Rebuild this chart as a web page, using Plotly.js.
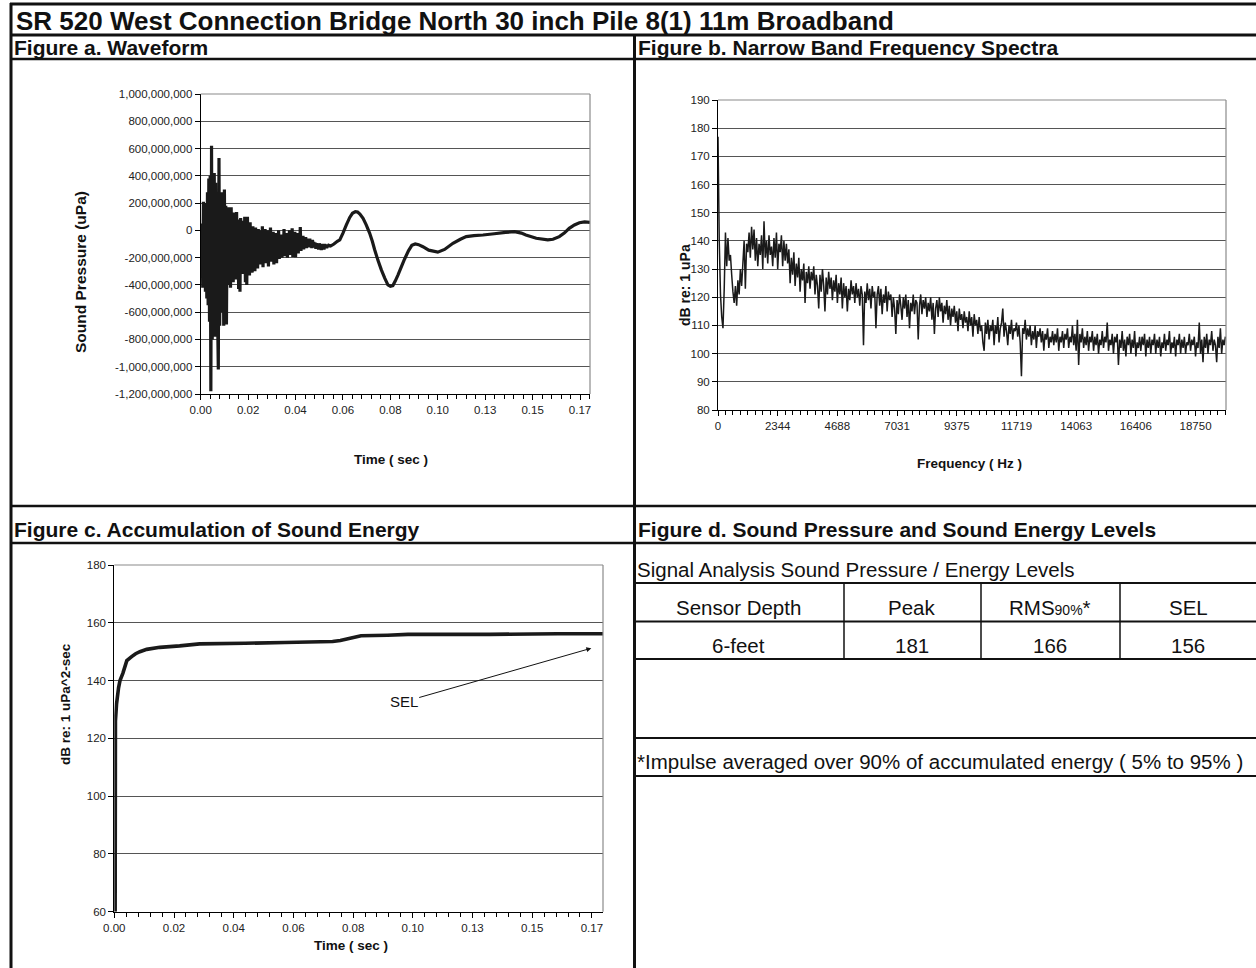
<!DOCTYPE html>
<html><head><meta charset="utf-8">
<script src="https://cdn.plot.ly/plotly-3.0.1.min.js"></script>
<style>html,body{margin:0;padding:0;background:#fff}#chart{width:1256px;height:968px}</style>
</head><body><div id="chart"></div>
<script>
// ---------------- data ----------------
const chartTitle = "SR 520 West Connection Bridge North 30 inch Pile 8(1) 11m Broadband";
const panelTitles = ["Figure a. Waveform", "Figure b. Narrow Band Frequency Spectra",
  "Figure c. Accumulation of Sound Energy", "Figure d. Sound Pressure and Sound Energy Levels"];

// time axis labels (Excel category labels)
const timeTickVals = [0, 0.021, 0.042, 0.063, 0.084, 0.105, 0.126, 0.147, 0.168];
const timeTickText = ["0.00","0.02","0.04","0.06","0.08","0.10","0.13","0.15","0.17"];

// waveform: early burst, sampled every burstStep seconds (values in millions of uPa)
const burstStep = 0.0003;
const burstPressureM = [
  0,-350,50,-420,210,-380,200,-450,150,-500,
  280,-550,380,-670,400,-1180,620,-800,300,-600,
  420,-780,350,-550,200,-650,-1020,530,-700,250,
  -500,280,-600,150,-700,300,-450,180,-690,100,
  -400,170,-350,120,-420,170,-300,90,-380,130,
  -280,60,-360,135,-300,40,-430,80,-450,90,
  -250,30,-320,70,-270,100,-380,20,-400,100,
  -260,40,-330,60,-250,0,-310,30,-240,-10,
  -300,20,-230,-20,-280,10,-220,0,-250,-30,
  -210,30,-270,-20,-200,10,-240,-40,-210,0,
  -265,-30,-190,20,-230,-50,-200,-10,-250,-40,
  -180,-20,-240,-60,-170,0,-210,-50,-190,-30,
  -200,-60,-160,10,-190,-40,-170,-20,-200,-60,
  -150,0,-180,-50,-170,15,-195,-40,-140,-10,
  -196,-50,-150,-20,-170,-60,-130,25,-150,-60,
  -120,-40,-140,-70,-120,-50,-130,-60,-110,-70,
  -125,-60,-110,-80,-130,-70,-115,-85,-125,-90,
  -135,-95,-120,-100,-140,-95,-125,-110,-145,-100,
  -130,-110,-140,-100,-125,-110,-130,-105,-120,-110
];
// waveform: later slow part
const tailTime = [0.0575,0.0590,0.0605,0.0616,0.0630,0.0645,0.0660,0.0672,0.0685,0.0695,
  0.0705,0.0719,0.0733,0.0748,0.0760,0.0770,0.0785,0.0800,0.0815,0.0829,
  0.0840,0.0851,0.0862,0.0873,0.0888,0.0903,0.0920,0.0935,0.0950,0.0965,
  0.0984,0.1010,0.1050,0.1080,0.1117,0.1150,0.1176,0.1210,0.1250,0.1300,
  0.1350,0.1390,0.1420,0.1440,0.1486,0.1537,0.1560,0.1588,0.1610,0.1632,
  0.1655,0.1677,0.1700,0.1724];
const tailPressureM = [-115,-100,-80,-70,-20,40,95,125,137,135,
  120,88,40,-20,-80,-140,-220,-290,-350,-400,
  -410,-405,-370,-330,-270,-210,-150,-110,-100,-105,
  -120,-145,-160,-140,-95,-65,-46,-38,-34,-25,
  -15,-10,-20,-34,-58,-70,-65,-46,-20,15,
  40,56,62,58];
const pressureTickVals = [-1.2e9,-1e9,-8e8,-6e8,-4e8,-2e8,0,2e8,4e8,6e8,8e8,1e9];
const pressureTickText = ["-1,200,000,000","-1,000,000,000","-800,000,000","-600,000,000",
  "-400,000,000","-200,000,000","0","200,000,000","400,000,000","600,000,000",
  "800,000,000","1,000,000,000"];

// narrow band spectrum, one value per bin of specStep Hz (dB re 1 uPa)
const specStep = 48.828125;
const specLevel = [
  177,140,121,113,109,123,143,131,141,133, 135,128,122,118,124,117,126,121,130,124,
  132,140,123,139,136,143,134,145,137,144, 133,141,131,139,135,142,130,147,134,140,
  132,142,135,138,131,141,134,143,130,139, 136,142,131,140,133,139,132,137,125,134,
  128,136,124,132,127,134,122,130,126,132, 118,129,125,131,123,129,126,131,121,128,
  124,116,128,122,130,124,115,127,121,129, 123,127,119,126,122,128,118,125,121,127,
  116,125,120,124,115,123,119,126,121,124, 118,125,120,123,117,124,121,103,122,118,
  125,119,123,116,124,120,122,109,121,124, 117,123,114,121,118,124,115,122,119,121,
  113,120,116,107,119,114,121,117,112,120, 116,121,113,119,109,118,115,121,114,119,
  118,105,117,121,114,119,116,120,113,118, 115,120,112,118,107,116,119,113,120,115,
  118,111,117,114,119,112,117,110,116,113, 117,111,115,108,116,112,114,109,115,111,
  113,108,115,110,113,106,114,110,112,107, 113,108,110,104,101,111,107,112,105,110,
  108,112,103,110,107,113,104,109,111,116, 106,111,108,103,110,107,112,105,109,108,
  111,106,110,104,92,109,107,112,105,109, 106,110,103,108,105,110,102,108,106,109,
  104,108,101,107,105,109,102,106,104,108, 103,107,104,109,101,106,104,108,102,107,
  105,109,102,106,104,110,103,107,101,112, 96,107,104,109,102,106,103,108,101,106,
  104,108,101,106,103,107,100,105,103,108, 102,106,104,111,101,105,103,107,100,106,
  104,107,96,105,102,108,101,105,99,106, 103,107,100,105,102,108,99,104,102,106,
  101,106,103,107,99,105,102,106,100,105, 103,107,100,105,102,106,99,104,102,107,
  101,105,103,108,100,104,102,106,99,105, 103,107,100,105,102,106,100,104,103,107,
  101,105,103,106,99,104,102,111,100,105, 97,106,102,107,100,105,103,108,101,105,
  103,97,106,102,109,100,105,103,106
];
const freqTickVals = [0,2343.75,4687.5,7031.25,9375,11718.75,14062.5,16406.25,18750];
const freqTickText = ["0","2344","4688","7031","9375","11719","14063","16406","18750"];

// accumulated sound energy (dB re 1 uPa^2-sec)
const accTime = [0.0003,0.0004,0.0008,0.0015,0.002,0.003,0.0044,0.0061,0.0075,0.009,
  0.0114,0.016,0.023,0.030,0.046,0.060,0.0768,0.0795,0.0818,0.0845,
  0.0868,0.0961,0.1033,0.132,0.156,0.1719];
const accLevel = [60,126,132,137.5,140,142.5,146.9,148.3,149.3,150,
  150.8,151.5,152,152.7,152.9,153.2,153.5,153.9,154.4,155.0,
  155.5,155.7,156.0,156.0,156.2,156.2];
const selLabel = "SEL";
const selPoint = [0.1678, 151.2];
const selLabelPos = [0.1018, 132.6];

// table
const tableCaption = "Signal Analysis Sound Pressure / Energy Levels";
const tableHeader = ["Sensor Depth","Peak","RMS<span style=\"font-size:14px\">90%</span>*","SEL"];
const tableRow = ["6-feet","181","166","156"];
const tableNote = "*Impulse averaged over 90% of accumulated energy ( 5% to 95% )";

// ---------------- build ----------------
const W = 1256, H = 968;
const X = p => p / W, Y = p => 1 - p / H;
const FONT = "Liberation Sans, Arial, Helvetica, sans-serif";
const INK = "#111";

const waveT = burstPressureM.map((_, i) => i * burstStep).concat(tailTime);
const waveP = burstPressureM.concat(tailPressureM).map(v => v * 1e6);
const specF = specLevel.map((_, i) => i * specStep);

const traces = [
  {x: waveT, y: waveP, xaxis: "x", yaxis: "y", type: "scatter", mode: "lines",
   line: {color: "#1a1a1a", width: 3.2, simplify: false}, hoverinfo: "skip"},
  {x: specF, y: specLevel, xaxis: "x2", yaxis: "y2", type: "scatter", mode: "lines",
   line: {color: "#1a1a1a", width: 1.5, simplify: false}, hoverinfo: "skip"},
  {x: accTime, y: accLevel, xaxis: "x3", yaxis: "y3", type: "scatter", mode: "lines",
   line: {color: "#1a1a1a", width: 3.6, simplify: false}, hoverinfo: "skip"}
];

const tickFont = {family: FONT, size: 11.5, color: "#222"};
const base = {showline: true, linecolor: "#000", linewidth: 1, ticks: "outside", ticklen: 5,
  tickcolor: "#000", tickwidth: 1, zeroline: false, tickfont: tickFont, fixedrange: true};
const gridY = {showgrid: true, gridcolor: "#555", gridwidth: 1};
const minorT = (d) => ({tickmode: "linear", tick0: 0, dtick: d, ticks: "outside", ticklen: 4,
  tickcolor: "#000", tickwidth: 1, showgrid: false});

const layout = {
  width: W, height: H, margin: {l: 0, r: 0, t: 0, b: 0},
  paper_bgcolor: "#fff", plot_bgcolor: "#fff", showlegend: false,
  font: {family: FONT, color: INK},
  xaxis: Object.assign({}, base, {domain: [X(200.7), X(590)], range: [0, 0.1724], anchor: "y",
    tickmode: "array", tickvals: timeTickVals, ticktext: timeTickText, showgrid: false, minor: minorT(0.0042)}),
  yaxis: Object.assign({}, base, gridY, {domain: [Y(394), Y(94)], range: [-1.2e9, 1e9], anchor: "x",
    tickmode: "array", tickvals: pressureTickVals, ticktext: pressureTickText}),
  xaxis2: Object.assign({}, base, {domain: [X(718), X(1226)], range: [0, 19946], anchor: "y2",
    tickmode: "array", tickvals: freqTickVals, ticktext: freqTickText, showgrid: false, minor: minorT(292.96875)}),
  yaxis2: Object.assign({}, base, gridY, {domain: [Y(410), Y(100)], range: [80, 190], anchor: "x2",
    tickmode: "linear", tick0: 80, dtick: 10}),
  xaxis3: Object.assign({}, base, {domain: [X(114.3), X(603)], range: [0, 0.1719], anchor: "y3",
    tickmode: "array", tickvals: timeTickVals, ticktext: timeTickText, showgrid: false, minor: minorT(0.0042)}),
  yaxis3: Object.assign({}, base, gridY, {domain: [Y(911.7), Y(565)], range: [60, 180], anchor: "x3",
    tickmode: "linear", tick0: 60, dtick: 20}),
  shapes: [],
  annotations: []
};

// plot-area right/top borders (gray)
[["x","y"],["x2","y2"],["x3","y3"]].forEach(([xa, ya]) => {
  layout.shapes.push({type: "line", xref: xa + " domain", yref: ya + " domain", x0: 1, x1: 1, y0: 0, y1: 1,
    line: {color: "#8a8a8a", width: 1.2}});
  layout.shapes.push({type: "line", xref: xa + " domain", yref: ya + " domain", x0: 0, x1: 1, y0: 1, y1: 1,
    line: {color: "#8a8a8a", width: 1.2}});
});

// page frame
function hline(y, x0, x1, w) {
  layout.shapes.push({type: "line", xref: "paper", yref: "paper", x0: X(x0), x1: X(x1), y0: Y(y), y1: Y(y),
    line: {color: "#111", width: w}});
}
function vline(x, y0, y1, w) {
  layout.shapes.push({type: "line", xref: "paper", yref: "paper", x0: X(x), x1: X(x), y0: Y(y0), y1: Y(y1),
    line: {color: "#111", width: w}});
}
hline(4, 10, 1256, 3);
hline(35, 10, 1256, 3);
hline(59, 10, 1256, 2.5);
hline(506, 10, 1256, 2.5);
hline(543, 10, 1256, 2.5);
vline(11, 3, 968, 3);
vline(634.5, 35, 968, 3);
// table
hline(583, 634, 1256, 2);
hline(621.5, 634, 1256, 2);
hline(659, 634, 1256, 2);
hline(738, 634, 1256, 2);
hline(776, 634, 1256, 2);
[844, 981, 1120].forEach(x => vline(x, 583, 659, 1.5));

// texts
function txt(text, x, y, size, o) {
  layout.annotations.push(Object.assign({text: text, xref: "paper", yref: "paper", x: X(x), y: Y(y),
    xanchor: "left", yanchor: "middle", showarrow: false, font: {family: FONT, size: size, color: INK}}, o || {}));
}
txt("<b>" + chartTitle + "</b>", 14, 21, 26);
txt("<b>" + panelTitles[0] + "</b>", 12, 47.5, 21);
txt("<b>" + panelTitles[1] + "</b>", 636, 47.5, 21);
txt("<b>" + panelTitles[2] + "</b>", 12, 529, 21);
txt("<b>" + panelTitles[3] + "</b>", 636, 529, 21);
txt(tableCaption, 635, 569, 20.5);
const colCenters = [739, 912, 1050, 1188];
tableHeader.forEach((t, i) => txt(t, colCenters[i], 607.5, 20.5, {xanchor: "center"}));
tableRow.forEach((t, i) => txt(t, colCenters[i], 645.5, 20.5, {xanchor: "center"}));
txt(tableNote, 635, 761, 20.5);

// axis titles
txt("<b>Sound Pressure (uPa)</b>", 81, 272, 15.5, {xanchor: "center", textangle: -90});
txt("<b>Time ( sec )</b>", 391, 459, 13.5, {xanchor: "center"});
txt("<b>dB re: 1 uPa</b>", 685, 285, 14, {xanchor: "center", textangle: -90});
txt("<b>Frequency ( Hz )</b>", 969, 463, 13.5, {xanchor: "center"});
txt("<b>dB re: 1 uPa^2-sec</b>", 65, 704, 13.5, {xanchor: "center", textangle: -90});
txt("<b>Time ( sec )</b>", 351, 945, 13.5, {xanchor: "center"});

// SEL arrow
layout.annotations.push({text: selLabel, xref: "x3", yref: "y3", x: selPoint[0], y: selPoint[1],
  axref: "x3", ayref: "y3", ax: selLabelPos[0], ay: selLabelPos[1], showarrow: true,
  arrowhead: 2, arrowsize: 1, arrowwidth: 1, arrowcolor: "#111", standoff: 0, startstandoff: 0,
  font: {family: FONT, size: 15, color: INK}});

Plotly.newPlot("chart", traces, layout, {displayModeBar: false, staticPlot: true});
</script>
</body></html>
